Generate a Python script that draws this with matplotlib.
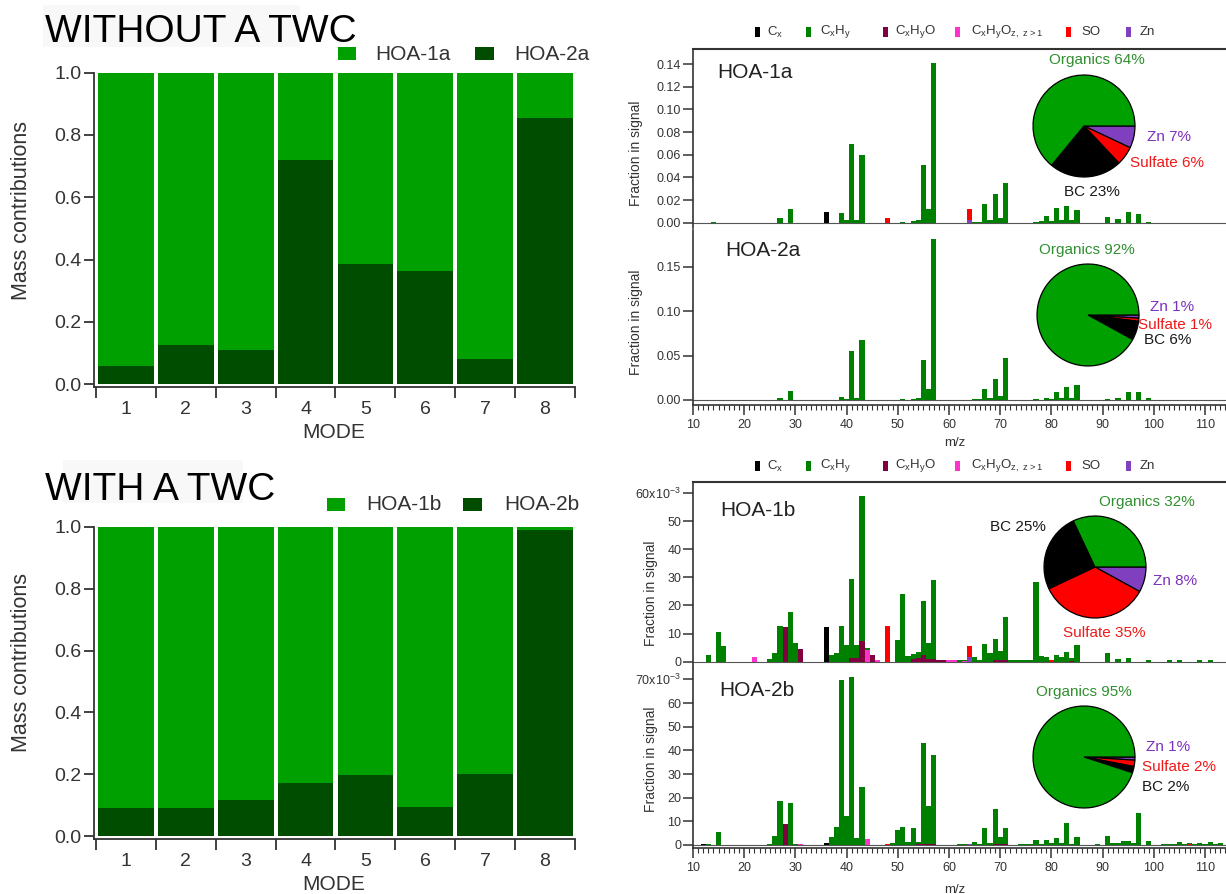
import numpy as np
import matplotlib.pyplot as plt
from matplotlib.patches import Rectangle

plt.rcParams['font.family'] = ['Liberation Sans', 'DejaVu Sans']
plt.rcParams['mathtext.default'] = 'regular'

# ---- mode contributions (fraction of HOA-2 factor per mode) ----
modes = [1, 2, 3, 4, 5, 6, 7, 8]
hoa2a_frac = [0.06, 0.125, 0.11, 0.72, 0.385, 0.365, 0.08, 0.855]
hoa2b_frac = [0.092, 0.092, 0.117, 0.173, 0.197, 0.095, 0.20, 0.99]

# ---- factor mass spectra, m/z -> fraction in signal ----
# HOA-1a
hoa1a_cxhy = {14: 0.0005, 27: 0.0044, 29: 0.0121, 39: 0.0085, 40: 0.002, 41: 0.0693,
              42: 0.0027, 43: 0.060, 51: 0.001, 53: 0.0015, 54: 0.002, 55: 0.0513,
              56: 0.0124, 57: 0.1406, 65: 0.001, 66: 0.001, 67: 0.0162, 68: 0.002,
              69: 0.0255, 70: 0.004, 71: 0.0347, 77: 0.001, 78: 0.0015, 79: 0.0059,
              80: 0.0015, 81: 0.0126, 82: 0.002, 83: 0.0147, 84: 0.002, 85: 0.0112,
              91: 0.0047, 93: 0.0032, 95: 0.0097, 97: 0.0074, 99: 0.0005}
hoa1a_cx = {36: 0.0094}
hoa1a_cxhyo = {}
hoa1a_cxhyoz = {}
hoa1a_so = {48: 0.0044, 64: 0.0118}
hoa1a_zn = {64: 0.0020}

# HOA-2a
hoa2a_cxhy = {27: 0.0026, 29: 0.0105, 39: 0.0038, 40: 0.001, 41: 0.055, 42: 0.002,
              43: 0.068, 51: 0.001, 53: 0.001, 54: 0.002, 55: 0.045, 56: 0.0124,
              57: 0.181, 65: 0.001, 66: 0.001, 67: 0.0124, 68: 0.002, 69: 0.0236,
              70: 0.004, 71: 0.047, 77: 0.001, 79: 0.002, 80: 0.001, 81: 0.009,
              82: 0.002, 83: 0.015, 84: 0.002, 85: 0.017, 91: 0.001, 93: 0.002,
              95: 0.009, 97: 0.009, 99: 0.002}
hoa2a_cx = {}
hoa2a_cxhyo = {}
hoa2a_cxhyoz = {}
hoa2a_so = {}
hoa2a_zn = {}

# HOA-1b (x10^-3)
hoa1b_cxhy = {13: 2.4, 15: 10.7, 16: 5.6, 25: 0.8, 26: 3.0, 27: 12.8, 29: 17.6, 30: 6.5,
              37: 2.4, 38: 3.0, 39: 12.8, 40: 6.0, 41: 29.5, 42: 6.0, 43: 59.0, 44: 4.8,
              50: 7.7, 51: 24.0, 52: 2.1, 53: 2.6, 54: 3.6, 55: 21.7, 56: 6.5, 57: 29.1,
              62: 0.6, 63: 0.6, 65: 1.8, 66: 0.6, 67: 6.2, 68: 3.0, 69: 8.1, 70: 3.9,
              71: 16.0, 72: 0.5, 73: 0.5, 74: 0.5, 75: 0.5, 76: 0.5, 77: 28.5, 78: 2.0,
              79: 1.8, 81: 2.4, 82: 1.8, 83: 3.3, 84: 1.2, 85: 5.9, 91: 3.0, 93: 0.8,
              95: 1.2, 99: 0.6, 103: 0.5, 105: 0.5, 109: 0.6, 111: 0.6}
hoa1b_cx = {36: 12.5}
hoa1b_cxhyo = {28: 12.2, 31: 4.4, 41: 1.2, 42: 1.2, 43: 7.5, 45: 2.4, 53: 0.8, 54: 1.4,
               55: 2.4, 56: 0.8, 57: 0.8, 58: 0.6, 59: 0.6, 69: 0.5, 70: 0.5, 71: 0.5,
               84: 0.4}
hoa1b_cxhyoz = {22: 1.8, 44: 4.2, 46: 0.6, 60: 0.5, 61: 0.5, 63: 0.4}
hoa1b_so = {48: 12.8, 64: 5.6, 80: 0.6}
hoa1b_zn = {64: 1.8}

# HOA-2b (x10^-3)
hoa2b_cxhy = {13: 0.3, 15: 5.6, 25: 0.4, 26: 3.9, 27: 18.7, 29: 17.6, 30: 0.4, 37: 3.2,
              38: 7.7, 39: 69.7, 40: 12.3, 41: 71.1, 42: 2.8, 43: 24.4, 49: 0.7, 50: 6.3,
              51: 7.7, 52: 1.4, 53: 7.0, 54: 1.4, 55: 43.0, 56: 16.5, 57: 38.0, 62: 0.3,
              63: 0.3, 65: 1.4, 66: 0.5, 67: 7.0, 68: 0.7, 69: 15.1, 70: 3.5, 71: 7.0,
              74: 0.3, 75: 0.3, 76: 0.3, 77: 2.1, 78: 0.4, 79: 2.1, 80: 0.7, 81: 2.8,
              82: 0.7, 83: 9.4, 84: 0.4, 85: 3.5, 89: 0.4, 91: 3.9, 92: 1.0, 93: 1.0,
              94: 1.8, 95: 1.8, 96: 0.7, 97: 13.7, 99: 1.8, 102: 0.3, 103: 0.3, 104: 0.3,
              105: 1.3, 106: 0.4, 107: 0.8, 108: 0.4, 109: 0.8, 110: 0.4, 111: 1.3,
              112: 0.4, 113: 0.8}
hoa2b_cx = {12: 0.3, 36: 0.8}
hoa2b_cxhyo = {28: 8.9, 54: 0.3, 55: 0.3, 56: 0.3, 57: 0.3, 69: 0.4, 70: 0.4, 71: 0.4}
hoa2b_cxhyoz = {31: 0.3, 44: 2.5}
hoa2b_so = {48: 0.4, 107: 0.3}
hoa2b_zn = {64: 0.3}

# ---- pie compositions (%), order: Zn, Sulfate, BC, Organics ----
pie_names = ['Zn', 'Sulfate', 'BC', 'Organics']
pie_1a = [7, 6, 23, 64]
pie_2a = [1, 1, 6, 92]
pie_1b = [8, 35, 25, 32]
pie_2b = [1, 2, 2, 95]

fam_labels = [r'C$_x$', r'C$_x$H$_y$', r'C$_x$H$_y$O', r'C$_x$H$_y$O$_{z,\ z>1}$', 'SO', 'Zn']
fam_colors = ['#000000', '#008000', '#800040', '#ff33cc', '#ff0000', '#8040c0']
pie_colors = ['#7f3fbf', '#ff0000', '#000000', '#00a000']
pie_text_colors = ['#7a30c0', '#f01818', '#1a1a1a', '#2f8f2f']

LIGHT = '#00a000'
DARK = '#004d00'
GREY = '#333333'

W, H = 1226, 894
fig = plt.figure(figsize=(W / 100, H / 100), dpi=100)


def box(l, t, r, b):
    return [l / W, 1 - b / H, (r - l) / W, (b - t) / H]


def ftext(x, y, s, **kw):
    fig.text(x / W, 1 - y / H, s, **kw)


def frect(l, t, w, h, color):
    fig.patches.append(Rectangle((l / W, 1 - (t + h) / H), w / W, h / H,
                                 transform=fig.transFigure, color=color, lw=0))


# ---- left: stacked mode bars ----
def mode_panel(top, bottom, low, names, title, title_base, leg_top, leg_x, ylab_y, mode_y):
    ax = fig.add_axes(box(94, top, 575, bottom))
    low = np.array(low)
    ax.bar(modes, low, width=0.93, color=DARK, lw=0)
    ax.bar(modes, 1 - low, bottom=low, width=0.93, color=LIGHT, lw=0)
    ax.set_xlim(0.467, 8.5)
    ax.set_ylim(-0.009, 1.0)
    for s in ['top', 'right']:
        ax.spines[s].set_visible(False)
    for s in ['left', 'bottom']:
        ax.spines[s].set_color(GREY)
        ax.spines[s].set_linewidth(1.3)
    ax.set_xticks(modes)
    ax.set_xticks(np.arange(0.5, 9), minor=True)
    ax.tick_params(axis='x', which='major', length=0, pad=10, labelsize=14, labelcolor=GREY)
    ax.tick_params(axis='x', which='minor', length=8, width=1.3, color=GREY, direction='out')
    ax.set_yticks(np.arange(0, 1.01, 0.2))
    ax.set_yticklabels(['%.1f' % v for v in np.arange(0, 1.01, 0.2)])
    ax.tick_params(axis='y', length=7, width=1.3, color=GREY, pad=2, labelsize=14, labelcolor=GREY)
    ftext(22, ylab_y, 'Mass contributions', rotation=90, ha='center', va='center',
          fontsize=15.5, color=GREY)
    ftext(334, mode_y, 'MODE', ha='center', va='center', fontsize=15, color=GREY)
    ftext(45, title_base, title, ha='left', va='baseline', fontsize=28, color='black')
    frect(leg_x[0], leg_top, 18, 13, LIGHT)
    ftext(leg_x[1], leg_top + 7, names[0], va='center', fontsize=15, color=GREY)
    frect(leg_x[2], leg_top, 19, 13, DARK)
    ftext(leg_x[3], leg_top + 7, names[1], va='center', fontsize=15, color=GREY)


frect(43, 5, 257, 42, '#f8f8f8')
frect(63, 460, 180, 43, '#f8f8f8')
mode_panel(72.7, 387, hoa2a_frac, ['HOA-1a', 'HOA-2a'], 'WITHOUT A TWC', 42, 47,
           [338, 375, 475, 514], 210, 433)
mode_panel(526.7, 839, hoa2b_frac, ['HOA-1b', 'HOA-2b'], 'WITH A TWC', 500, 498,
           [327, 366, 463, 504], 663, 885)


# ---- right: factor mass spectra ----
def spectrum(top, bottom, ylim, series, name, name_xy, yticks, yticklabels, frame_top):
    ax = fig.add_axes(box(693, top, 1226, bottom))
    order = [1, 0, 2, 3, 4, 5]
    for i in order:
        d = series[i]
        if d:
            ax.bar(list(d.keys()), list(d.values()), width=1.0, color=fam_colors[i], lw=0)
    ax.axhline(0, color='#555555', lw=0.8, zorder=0)
    ax.set_xlim(10, 114.1)
    ax.set_ylim(*ylim)
    ax.spines['right'].set_visible(False)
    ax.spines['left'].set_color(GREY)
    ax.spines['left'].set_linewidth(1.2)
    if frame_top:
        ax.spines['top'].set_color(GREY)
        ax.spines['top'].set_linewidth(1.5)
        ax.spines['bottom'].set_visible(False)
        ax.set_xticks([])
    else:
        ax.spines['top'].set_visible(False)
        ax.spines['bottom'].set_color(GREY)
        ax.spines['bottom'].set_linewidth(1.2)
        ax.set_xticks(range(10, 111, 10))
        ax.set_xticks(range(10, 115), minor=True)
        ax.tick_params(axis='x', which='major', length=7, width=1.1, color=GREY,
                       labelsize=9, labelcolor=GREY, pad=3)
        ax.tick_params(axis='x', which='minor', length=3.5, width=0.8, color=GREY)
    ax.set_yticks(yticks)
    ax.set_yticklabels(yticklabels)
    ax.tick_params(axis='y', length=7, width=1.1, color=GREY, labelsize=9,
                   labelcolor=GREY, pad=1.5)
    ftext(name_xy[0], name_xy[1], name, va='center', fontsize=15, color='#222222')
    return ax


def pie(cx, cy, vals, label_pos):
    r = 52
    pax = fig.add_axes(box(cx - r, cy - r, cx + r, cy + r))
    pax.pie(vals, colors=pie_colors, startangle=0, counterclock=False,
            wedgeprops=dict(edgecolor='black', linewidth=0.9))
    pax.set_xlim(-1.02, 1.02)
    pax.set_ylim(-1.02, 1.02)
    pax.axis('off')
    for i, (x, y, ha) in enumerate(label_pos):
        ftext(x, y, '%s %d%%' % (pie_names[i], vals[i]), ha=ha, va='center',
              fontsize=11, color=pie_text_colors[i])


def family_legend(y):
    sq_x = [755, 806, 883, 955, 1066, 1126]
    tx_x = [767, 820, 895, 971, 1081, 1140]
    for i in range(6):
        frect(sq_x[i], y - 5, 5, 10, fam_colors[i])
        ftext(tx_x[i], y, fam_labels[i], va='center', fontsize=9.5, color=GREY)


family_legend(32)
family_legend(466)

spectrum(49.3, 228, (-0.0047, 0.153),
         [hoa1a_cx, hoa1a_cxhy, hoa1a_cxhyo, hoa1a_cxhyoz, hoa1a_so, hoa1a_zn],
         'HOA-1a', (717, 73), np.arange(0, 0.141, 0.02),
         ['%.2f' % v for v in np.arange(0, 0.141, 0.02)], True)
spectrum(230, 405, (-0.00564, 0.1917),
         [hoa2a_cx, hoa2a_cxhy, hoa2a_cxhyo, hoa2a_cxhyoz, hoa2a_so, hoa2a_zn],
         'HOA-2a', (725, 250), [0, 0.05, 0.10, 0.15],
         ['0.00', '0.05', '0.10', '0.15'], False)
spectrum(482, 667, (-1.88, 63.9),
         [hoa1b_cx, hoa1b_cxhy, hoa1b_cxhyo, hoa1b_cxhyoz, hoa1b_so, hoa1b_zn],
         'HOA-1b', (720, 510), [0, 10, 20, 30, 40, 50, 60],
         ['0', '10', '20', '30', '40', '50', r'60x10$^{-3}$'], True)
spectrum(668, 848.3, (-1.4, 74.8),
         [hoa2b_cx, hoa2b_cxhy, hoa2b_cxhyo, hoa2b_cxhyoz, hoa2b_so, hoa2b_zn],
         'HOA-2b', (719, 690), [0, 10, 20, 30, 40, 50, 60, 70],
         ['0', '10', '20', '30', '40', '50', '60', r'70x10$^{-3}$'], False)

for x, y in [(636, 153), (636, 322), (651, 593), (651, 759)]:
    ftext(x, y, 'Fraction in signal', rotation=90, ha='center', va='center',
          fontsize=10, color=GREY)
ftext(955, 443, 'm/z', ha='center', va='center', fontsize=9.5, color=GREY)
ftext(955, 890, 'm/z', ha='center', va='center', fontsize=9.5, color=GREY)

pie(1084, 126, pie_1a, [(1147, 137, 'left'), (1130, 163, 'left'),
                        (1064, 192, 'left'), (1097, 60, 'center')])
pie(1088, 315, pie_2a, [(1150, 307, 'left'), (1138, 325, 'left'),
                        (1144, 340, 'left'), (1087, 250, 'center')])
pie(1095, 567, pie_1b, [(1153, 581, 'left'), (1063, 633, 'left'),
                        (990, 527, 'left'), (1099, 502, 'left')])
pie(1084, 757, pie_2b, [(1146, 747, 'left'), (1142, 767, 'left'),
                        (1142, 787, 'left'), (1036, 692, 'left')])

fig.savefig('out.png', dpi=100)
